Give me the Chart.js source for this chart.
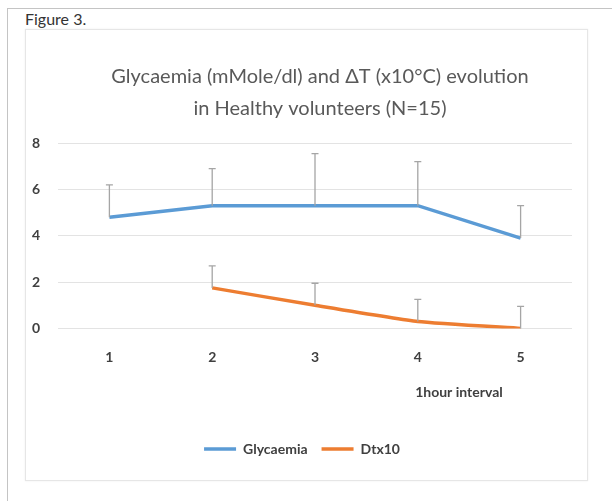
<!DOCTYPE html>
<html>
<head>
<meta charset="utf-8">
<script src="https://cdn.jsdelivr.net/npm/chart.js@4.4.0/dist/chart.umd.min.js"></script>
<style>
  body { margin: 0; background: #fff; width: 612px; height: 501px; overflow: hidden; position: relative; }
  #frame { position: absolute; left: 7px; top: 8px; right: 0; bottom: 0; border-top: 1.5px solid #c4c4c4; border-left: 1.5px solid #c4c4c4; }
  #fig { position: absolute; left: 25px; top: 9px; font: 16px Lato, sans-serif; color: #333; }
  #box { position: absolute; left: 25px; top: 29px; width: 561px; height: 450px; border: 1px solid #e6e6e6; box-shadow: 0 0 2px #eee; }
  canvas { display: block; }
</style>
</head>
<body>
<div id="frame"></div>
<div id="fig">Figure 3.</div>
<div id="box"><canvas id="chart" width="561" height="450"></canvas></div>
<script>
const hours = ['1', '2', '3', '4', '5'];
const glycaemia = [4.8, 5.3, 5.3, 5.3, 3.9];
const glycaemiaErr = [1.4, 1.6, 2.25, 1.9, 1.4];
const dtx10 = [null, 1.75, 1.0, 0.3, 0.0];
const dtx10Err = [null, 0.95, 0.95, 0.95, 0.95];
const yTicks = [0, 2, 4, 6, 8];

const tickFont = { family: 'Lato, sans-serif', size: 14, weight: 'bold' };

// plus-only error bars, grey with a small cap
const errorBars = {
    id: 'errorBars',
    afterDatasetsDraw(chart) {
        const ctx = chart.ctx, x = chart.scales.x, y = chart.scales.y;
        ctx.save();
        ctx.strokeStyle = '#a5a5a5';
        ctx.lineWidth = 1.3;
        chart.data.datasets.forEach(ds => {
            ds.data.forEach((v, i) => {
                if (v === null || ds.errors[i] === null) return;
                const px = x.getPixelForValue(i);
                const y0 = y.getPixelForValue(v), y1 = y.getPixelForValue(v + ds.errors[i]);
                ctx.beginPath();
                ctx.moveTo(px, y0); ctx.lineTo(px, y1);
                ctx.moveTo(px - 3.5, y1); ctx.lineTo(px + 3.5, y1);
                ctx.stroke();
            });
        });
        ctx.restore();
    }
};

// x axis title sits under the last interval, drawn over the reserved space
const hourLabel = {
    id: 'hourLabel',
    afterDraw(chart) {
        const ctx = chart.ctx, x = chart.scales.x;
        ctx.save();
        ctx.font = 'bold 14px Lato, sans-serif';
        ctx.fillStyle = '#404040';
        ctx.textAlign = 'center';
        ctx.textBaseline = 'middle';
        ctx.fillText('1hour interval', x.getPixelForValue(3.4), chart.chartArea.bottom + 64);
        ctx.restore();
    }
};

new Chart(document.getElementById('chart'), {
    type: 'line',
    data: {
        labels: hours,
        datasets: [
            { label: 'Glycaemia', data: glycaemia, errors: glycaemiaErr, borderColor: '#5b9bd5', backgroundColor: '#5b9bd5', borderWidth: 3.5, pointRadius: 0, tension: 0 },
            { label: 'Dtx10', data: dtx10, errors: dtx10Err, borderColor: '#ed7d31', backgroundColor: '#ed7d31', borderWidth: 3.5, pointRadius: 0, tension: 0.15 }
        ]
    },
    options: {
        responsive: false,
        animation: false,
        layout: { padding: { left: 6, right: 15, top: 0, bottom: 14 } },
        plugins: {
            title: {
                display: true,
                fullSize: false,
                text: ['\u2002Glycaemia (mMole/dl) and \u0394T (x10\u00b0C) evolution', '\u2002in Healthy volunteers (N=15)'],
                color: '#595959',
                font: { family: 'Lato, sans-serif', size: 20, weight: 'normal', lineHeight: 1.63 },
                padding: { top: 30, bottom: 18 }
            },
            legend: {
                position: 'bottom',
                labels: {
                    color: '#404040',
                    font: tickFont,
                    usePointStyle: true,
                    pointStyle: 'line',
                    pointStyleWidth: 32,
                    padding: 14
                }
            },
            tooltip: { enabled: false }
        },
        scales: {
            x: {
                offset: true,
                grid: { display: false },
                border: { display: false },
                ticks: { color: '#404040', font: tickFont, padding: 13 },
                title: { display: true, text: '1hour interval', color: 'transparent', font: tickFont, padding: { top: 16, bottom: 16 } }
            },
            y: {
                min: 0, max: 8,
                afterBuildTicks: axis => { axis.ticks = yTicks.map(v => ({ value: v })); },
                afterFit: axis => { axis.width = 26; },
                grid: { color: '#e3e3e3', drawTicks: false },
                border: { display: false },
                ticks: { color: '#404040', font: tickFont, padding: 18 }
            }
        }
    },
    plugins: [errorBars, hourLabel]
});
</script>
</body>
</html>
